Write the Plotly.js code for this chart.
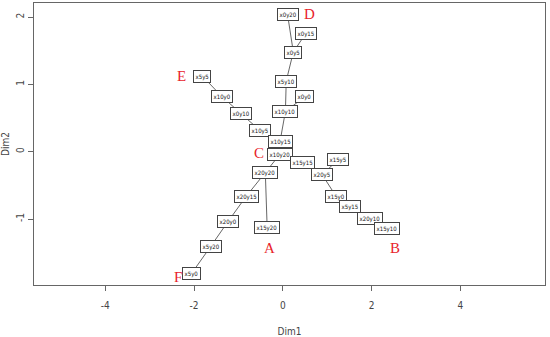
<!DOCTYPE html>
<html>
<head>
<meta charset="utf-8">
<script src="https://cdn.plot.ly/plotly-3.0.1.min.js"></script>
<style>html,body{margin:0;padding:0;background:#fff;}#chart{width:550px;height:337px;}</style>
</head>
<body>
<div id="chart"></div>
<script>
// Node names and their MDS coordinates (Dim1, Dim2)
const nodeNames = ["x0y20","x0y15","x0y5","x5y5","x5y10","x10y0","x0y0","x0y10","x10y10","x10y5",
                   "x10y15","x10y20","x15y15","x15y5","x20y5","x20y20","x20y15","x15y0","x5y15","x20y0",
                   "x20y10","x15y20","x15y10","x5y20","x5y0"];
const dim1 = [0.106, 0.512, 0.237, -1.810, 0.077, -1.377, 0.494, -0.937, 0.059, -0.509,
              -0.063, -0.063, 0.437, 1.244, 0.888, -0.394, -0.823, 1.199, 1.514, -1.242,
              1.958, -0.352, 2.353, -1.629, -2.053];
const dim2 = [2.042, 1.751, 1.481, 1.121, 1.050, 0.823, 0.817, 0.563, 0.597, 0.312,
              0.149, -0.037, -0.157, -0.119, -0.342, -0.309, -0.661, -0.661, -0.817, -1.044,
              -0.989, -1.133, -1.145, -1.411, -1.806];

// Tree edges
const edgeFrom = ["x0y20","x0y15","x0y5","x5y10","x0y0","x10y10","x10y15","x5y5","x10y0","x0y10",
                  "x10y5","x10y20","x15y15","x15y5","x20y5","x15y0","x5y15","x20y10","x10y20","x20y20",
                  "x20y20","x20y15","x20y0","x5y20"];
const edgeTo   = ["x0y5","x0y5","x5y10","x10y10","x10y10","x10y15","x10y20","x10y0","x0y10","x10y5",
                  "x10y15","x15y15","x20y5","x20y5","x15y0","x5y15","x20y10","x15y10","x20y20","x15y20",
                  "x20y15","x20y0","x5y20","x5y0"];

// Group letters
const groupLetters = ["A","B","C","D","E","F"];
const groupX = [-0.304, 2.528, -0.536, 0.597, -2.278, -2.355];
const groupY = [-1.435, -1.430, -0.012, 2.045, 1.129, -1.857];

const xTicks = [-4, -2, 0, 2, 4];
const yTicks = [-1, 0, 1, 2];

const idx = {};
nodeNames.forEach((n, i) => idx[n] = i);
const ex = [], ey = [];
for (let k = 0; k < edgeFrom.length; k++) {
  const a = idx[edgeFrom[k]], b = idx[edgeTo[k]];
  ex.push(dim1[a], dim1[b], null);
  ey.push(dim2[a], dim2[b], null);
}

const traces = [{
  type: 'scatter', mode: 'lines', x: ex, y: ey,
  line: {color: '#555', width: 0.9}, hoverinfo: 'skip', showlegend: false
}];

const annotations = [];
nodeNames.forEach((n, i) => {
  annotations.push({
    x: dim1[i], y: dim2[i], xref: 'x', yref: 'y', text: n, showarrow: false,
    font: {family: 'Liberation Sans Narrow, DejaVu Sans Condensed, Arial Narrow, sans-serif', size: 6, color: '#111'},
    bgcolor: '#fff', bordercolor: '#444', borderwidth: 1, borderpad: 1.5
  });
});
groupLetters.forEach((g, i) => {
  annotations.push({
    x: groupX[i], y: groupY[i], xref: 'x', yref: 'y', text: g, showarrow: false,
    font: {family: 'Liberation Serif, Times New Roman, serif', size: 15, color: '#e8232a'}
  });
});

const axisFont = {family: 'Liberation Sans Narrow, DejaVu Sans Condensed, Arial, sans-serif', size: 10, color: '#444'};

const layout = {
  width: 550, height: 337,
  margin: {l: 34, r: 5, t: 3, b: 52},
  paper_bgcolor: '#fff', plot_bgcolor: '#fff',
  showlegend: false,
  xaxis: {
    range: [-5.607, 5.909], tickvals: xTicks, ticktext: xTicks.map(String),
    showgrid: false, zeroline: false, showline: true, mirror: true,
    linecolor: '#666', linewidth: 1, ticks: 'outside', ticklen: 5, tickcolor: '#666',
    tickfont: axisFont, ticklabelstandoff: 6,
    title: {text: 'Dim1', font: axisFont, standoff: 17}
  },
  yaxis: {
    range: [-1.98, 2.209], tickvals: yTicks, ticktext: yTicks.map(String),
    showgrid: false, zeroline: false, showline: true, mirror: true,
    linecolor: '#666', linewidth: 1, ticks: 'outside', ticklen: 5, tickcolor: '#666',
    tickfont: axisFont, tickangle: -90,
    title: {text: 'Dim2', font: axisFont, standoff: 6}
  },
  annotations: annotations
};

Plotly.newPlot('chart', traces, layout, {displayModeBar: false, staticPlot: true});
</script>
</body>
</html>
